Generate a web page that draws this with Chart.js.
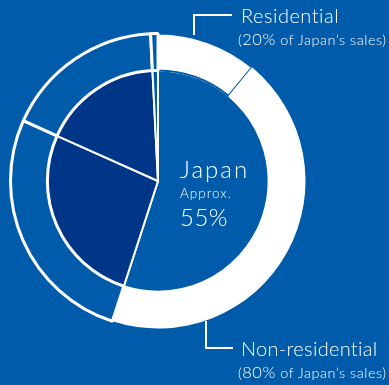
<!DOCTYPE html>
<html lang="en">
<head>
  <meta charset="UTF-8">
  <title>Japan sales</title>
  <script src="https://cdn.jsdelivr.net/npm/chart.js"></script>
  <style>
    html, body {
      margin: 0;
      padding: 0;
      width: 389px;
      height: 385px;
      overflow: hidden;
      background: #005bab;
      font-family: Lato, "Open Sans", sans-serif;
      color: #fff;
    }
    #chart-box {
      position: absolute;
      left: 9px;
      top: 32px;
      width: 298px;
      height: 298px;
    }
    .txt {
      position: absolute;
      white-space: nowrap;
      line-height: 1;
      font-weight: 300;
    }
    .small {
      font-size: 14.5px;
      letter-spacing: 0.5px;
    }
    .small span { font-size: 16.5px; }
    .line {
      position: absolute;
      background: #fff;
    }
  </style>
</head>
<body>
  <div id="chart-box"><canvas id="pie"></canvas></div>

  <!-- texto central -->
  <div class="txt" style="left:180px; top:157px; font-size:24px; letter-spacing:2px;">Japan</div>
  <div class="txt" style="left:180px; top:187px; font-size:13.5px; letter-spacing:1px;">Approx.</div>
  <div class="txt" style="left:180px; top:205px; font-size:24px; letter-spacing:0.5px;">55%</div>

  <!-- linhas de chamada -->
  <div class="line" style="left:193px; top:14px; width:2px; height:21px;"></div>
  <div class="line" style="left:193px; top:14px; width:39px; height:2px;"></div>
  <div class="line" style="left:205px; top:321px; width:2px; height:28px;"></div>
  <div class="line" style="left:205px; top:347px; width:28px; height:2px;"></div>

  <!-- rótulos -->
  <div class="txt" style="left:241px; top:5px; font-size:20px; letter-spacing:0.5px;">Residential</div>
  <div class="txt small" style="left:238px; top:31px;">(<span>20%</span> of Japan’s sales)</div>
  <div class="txt" style="left:241px; top:338px; font-size:20px; letter-spacing:0.3px;">Non-residential</div>
  <div class="txt small" style="left:238px; top:364px;">(<span>80%</span> of Japan’s sales)</div>

  <script>
    const BLUE = "#005bab";
    const NAVY = "#003687";
    const WHITE = "#ffffff";

    // anel externo: residencial / não residencial do Japão + outras regiões
    const outerLabels = ["Residential", "Non-residential", "Region A", "Region B", "Region C"];
    const outerValues = [11, 44, 26.7, 17.5, 0.8];

    // pizza interna: Japão + outras regiões
    const innerLabels = ["Japan", "Region A", "Region B", "Region C"];
    const innerValues = [55, 26.7, 17.5, 0.8];

    new Chart(document.getElementById("pie"), {
      type: "doughnut",
      data: {
        labels: innerLabels,
        datasets: [
          {
            label: "outer",
            data: outerValues,
            backgroundColor: [WHITE, WHITE, BLUE, BLUE, BLUE],
            borderColor: [BLUE, WHITE, WHITE, WHITE, WHITE],
            borderWidth: [2, 0, 3, 3, 3],
            weight: 37
          },
          {
            label: "inner",
            data: innerValues,
            backgroundColor: [BLUE, NAVY, NAVY, BLUE],
            borderColor: WHITE,
            borderWidth: 2,
            weight: 111
          }
        ]
      },
      options: {
        responsive: true,
        maintainAspectRatio: false,
        animation: false,
        events: [],
        cutout: 0,
        layout: { padding: 0 },
        plugins: {
          legend: { display: false },
          tooltip: { enabled: false }
        }
      }
    });
  </script>
</body>
</html>
